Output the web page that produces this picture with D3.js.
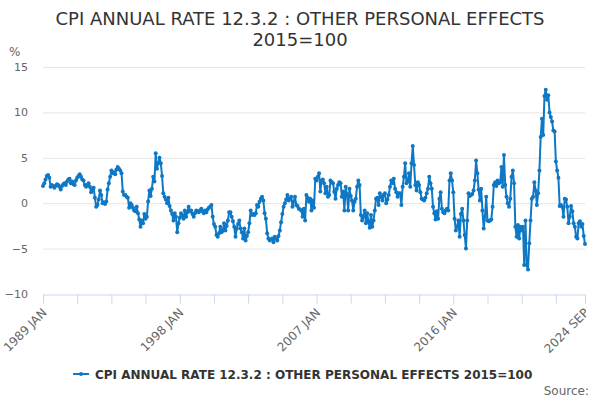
<!DOCTYPE html>
<html>
<head>
<meta charset="utf-8">
<script src="https://cdn.jsdelivr.net/npm/d3@7"></script>
<style>
  html, body { margin: 0; padding: 0; background: #fff; }
  svg { display: block; font-family: "DejaVu Sans", sans-serif; }
</style>
</head>
<body>
<svg id="chart" width="600" height="400"></svg>
<script>
const titleLines = ["CPI ANNUAL RATE 12.3.2 : OTHER PERSONAL EFFECTS", "2015=100"];
const seriesName = "CPI ANNUAL RATE 12.3.2 : OTHER PERSONAL EFFECTS 2015=100";
const startYear = 1989;
const monthNames = ["JAN","FEB","MAR","APR","MAY","JUN","JUL","AUG","SEP","OCT","NOV","DEC"];
const yTicks = [-10, -5, 0, 5, 10, 15];
const xLabelIndex = [0, 108, 216, 324, 428];

const v1989 = [1.9, 2.2, 2.6, 3.0, 3.1, 2.8, 1.8, 2.0, 1.9, 1.7, 1.9, 2.1];
const v1990 = [2.0, 1.8, 1.5, 1.9, 2.1, 2.2, 2.0, 2.4, 2.6, 2.7, 2.2, 2.4];
const v1991 = [2.1, 2.0, 2.5, 2.8, 3.0, 3.2, 2.9, 2.6, 2.5, 2.0, 1.8, 2.0];
const v1992 = [2.2, 1.8, 1.2, 1.5, 1.7, 0.6, -0.4, -0.2, 0.4, 1.4, 0.9, 0.0];
const v1993 = [0.1, -0.1, 0.2, 1.5, 2.2, 2.9, 3.6, 3.3, 3.4, 3.2, 3.7, 4.0];
const v1994 = [3.8, 3.6, 3.3, 1.3, 0.9, 0.9, 0.7, 0.6, -0.5, 0.0, -0.2, -0.5];
const v1995 = [-0.8, -0.9, -0.4, -1.1, -1.8, -2.6, -1.9, -2.2, -1.2, -1.7, -1.5, 0.2];
const v1996 = [1.4, 0.8, 1.6, 2.9, 2.4, 5.5, 3.8, 4.4, 5.0, 4.4, 3.0, 1.1];
const v1997 = [0.7, 0.4, 0.0, 0.6, -0.3, -0.8, -1.2, -1.9, -1.1, -1.5, -3.2, -2.2];
const v1998 = [-1.6, -1.1, -1.4, -1.7, -0.8, -1.5, -1.0, -0.4, -0.9, -0.8, -1.2, -1.5];
const v1999 = [-1.1, -0.8, -0.9, -1.0, -0.8, -0.6, -0.9, -1.1, -0.8, -1.0, -0.7, -0.5];
const v2000 = [-0.4, -0.2, -1.5, -2.3, -2.6, -3.5, -3.7, -3.3, -2.6, -3.2, -3.0, -2.2];
const v2001 = [-3.0, -2.5, -1.9, -1.0, -1.0, -1.5, -2.0, -2.6, -3.7, -2.8, -2.3, -1.9];
const v2002 = [-2.8, -3.2, -3.9, -2.8, -4.1, -3.6, -3.2, -2.2, -0.8, -1.3, -1.2, -1.3];
const v2003 = [-1.1, -0.2, -0.4, 0.15, 0.5, 0.7, 0.3, -1.1, -1.7, -3.3, -3.9, -4.1];
const v2004 = [-4.0, -3.9, -4.3, -3.7, -3.9, -4.1, -3.6, -3.0, -2.1, -1.2, -0.4, 0.0];
const v2005 = [0.4, 0.9, 0.3, 0.5, 0.7, -0.4, 0.2, 0.7, -0.2, -0.3, -0.6, -0.7];
const v2006 = [-0.8, -1.5, -0.6, -1.9, 0.9, 0.6, 0.15, 0.5, -0.8, 0.3, -0.5, 2.7];
const v2007 = [2.5, 2.9, 3.3, 1.3, 2.5, 2.6, 2.2, 1.1, 1.8, 0.7, 0.9, 2.5];
const v2008 = [2.3, 2.2, 1.25, 0.5, 1.6, 2.0, 2.3, 2.2, 0.7, 1.3, -0.8, 1.8];
const v2009 = [1.0, -0.8, 1.6, 0.8, 0.3, -0.8, 0.15, 0.5, 1.8, 2.5, 2.0, -1.3];
const v2010 = [-1.9, -1.5, -0.8, -2.2, -1.1, -2.0, -2.7, -1.3, -2.6, -1.9, -0.8, 0.5];
const v2011 = [0.6, -0.2, 1.1, 0.7, 0.3, 0.9, 1.1, 0.0, 0.4, 0.9, 1.8, 2.5];
const v2012 = [2.2, 2.7, 1.6, 1.2, 0.7, 1.1, 1.1, -0.2, 1.8, 2.9, 4.4, 2.2];
const v2013 = [2.4, 3.3, 1.8, 4.4, 6.3, 4.2, 2.0, 1.4, 2.3, 2.0, 1.2, 0.5];
const v2014 = [0.4, 0.3, 0.6, 1.1, 1.6, 2.9, 2.2, 1.6, -0.4, -1.1, -1.8, -0.9];
const v2015 = [-1.7, 0.5, 1.2, -0.6, -1.0, -1.1, -0.8, -0.6, -0.8, 2.5, 3.3, 2.5];
const v2016 = [1.2, -1.7, -3.0, -2.6, -1.9, -3.7, -1.2, -0.6, -1.9, -3.5, -5.0, -1.9];
const v2017 = [1.1, 0.8, 0.9, 1.0, 1.4, 2.5, 4.7, 3.3, 1.5, 0.3, 1.6, -0.8];
const v2018 = [-2.8, -1.5, 0.7, -1.9, -2.0, -1.9, -1.8, -0.4, 2.0, 2.3, 1.9, 2.5];
const v2019 = [2.2, 2.3, 4.0, 1.8, 5.3, 2.0, 0.7, 0.0, -0.4, 0.5, 2.9, 3.6];
const v2020 = [2.2, -2.6, -3.7, -2.4, -3.9, -2.6, -3.0, -2.6, -6.8, -1.9, -6.8, -7.3];
const v2021 = [-4.4, -1.9, 0.5, 0.7, 2.3, 1.4, -0.2, 1.1, 3.6, 7.3, 9.3, 7.5];
const v2022 = [11.8, 12.5, 11.4, 11.9, 10.0, 9.5, 9.0, 8.0, 7.9, 4.6, 3.6, 2.8];
const v2023 = [-0.3, -0.2, -0.4, -1.5, 0.5, 0.4, -0.4, -2.2, -1.5, -0.3, -0.9, -2.2];
const v2024 = [-2.6, -3.7, -3.9, -2.2, -2.0, -2.6, -2.3, -3.6, -4.5];

const values = [].concat(v1989, v1990, v1991, v1992, v1993, v1994, v1995, v1996, v1997,
  v1998, v1999, v2000, v2001, v2002, v2003, v2004, v2005, v2006, v2007, v2008, v2009,
  v2010, v2011, v2012, v2013, v2014, v2015, v2016, v2017, v2018, v2019, v2020, v2021,
  v2022, v2023, v2024);
const labels = values.map((_, i) => (startYear + Math.floor(i / 12)) + " " + monthNames[i % 12]);
const data = values.map((v, i) => ({ i, v, label: labels[i] }));

const svg = d3.select("#chart");
const color = "#0e78c4";
const margin = { left: 43, right: 15 };
const W = 600;
const n = values.length;

const x = d3.scaleLinear().domain([0, n - 1]).range([margin.left, W - margin.right]);
const y = d3.scaleLinear().domain([-10, 15]).range([294, 67]);

// Title
svg.append("g").selectAll("text").data(titleLines).join("text")
  .attr("x", 300).attr("y", (d, i) => 25 + i * 21)
  .attr("text-anchor", "middle").attr("fill", "#333").attr("font-size", 18)
  .text(d => d);

// Unit
svg.append("text").attr("x", 9).attr("y", 56).attr("fill", "#666").attr("font-size", 12).text("%");

// Gridlines
svg.append("g").selectAll("line").data(yTicks.filter(t => t !== -10)).join("line")
  .attr("x1", margin.left).attr("x2", W - margin.right)
  .attr("y1", d => y(d) + 0.5).attr("y2", d => y(d) + 0.5)
  .attr("stroke", "#e6e6e6").attr("stroke-width", 1);

// Y axis labels
const yAxis = d3.axisLeft(y).tickValues(yTicks).tickSize(0).tickPadding(0);
const gy = svg.append("g").attr("transform", "translate(28,0)").call(yAxis);
gy.select(".domain").remove();
gy.selectAll("text").attr("fill", "#666").attr("font-size", 11).attr("font-family", "DejaVu Sans, sans-serif");

// X axis
const tickIdx = d3.range(0, n, 27).concat([n - 1]);
const axisY = y(-10) + 0.5;
const xAxis = d3.axisBottom(x).tickValues(tickIdx).tickSize(9).tickSizeOuter(0)
  .tickFormat(i => xLabelIndex.includes(i) ? labels[i] : "");
const gx = svg.append("g").attr("transform", `translate(0,${axisY})`).call(xAxis);
gx.select(".domain").attr("stroke", "#ccd6eb");
gx.selectAll(".tick line").attr("stroke", "#ccd6eb");
gx.selectAll("text")
  .attr("fill", "#666").attr("font-size", 12).attr("font-family", "DejaVu Sans, sans-serif")
  .attr("text-anchor", "end")
  .attr("x", 0).attr("y", 0).attr("dy", 0)
  .attr("transform", "translate(4,19) rotate(-45)");

// Line
const line = d3.line().x(d => x(d.i)).y(d => y(d.v));
svg.append("path").datum(data).attr("d", line)
  .attr("fill", "none").attr("stroke", color).attr("stroke-width", 2).attr("stroke-linejoin", "round");
svg.append("g").selectAll("circle").data(data).join("circle")
  .attr("cx", d => x(d.i)).attr("cy", d => y(d.v)).attr("r", 2).attr("fill", color);

// Legend
const lg = svg.append("g").attr("transform", "translate(73,374)");
lg.append("line").attr("x1", 0).attr("x2", 16).attr("y1", 0).attr("y2", 0).attr("stroke", color).attr("stroke-width", 2);
lg.append("circle").attr("cx", 8).attr("cy", 0).attr("r", 2).attr("fill", color);
lg.append("text").attr("x", 22).attr("y", 4.5).attr("fill", "#333").attr("font-size", 12)
  .attr("font-weight", "bold").text(seriesName);

// Source
svg.append("text").attr("x", 589).attr("y", 395).attr("text-anchor", "end")
  .attr("fill", "#666").attr("font-size", 12).text("Source:");
</script>
</body>
</html>
